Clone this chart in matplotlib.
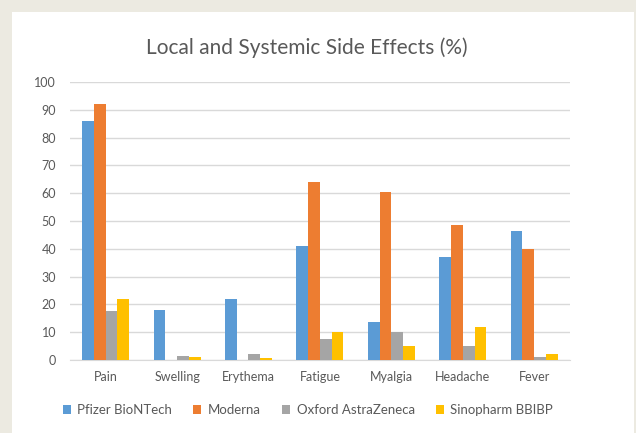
import numpy as np
import matplotlib
matplotlib.use("Agg")
import matplotlib.pyplot as plt
from matplotlib.patches import Rectangle

categories = ["Pain", "Swelling", "Erythema", "Fatigue", "Myalgia", "Headache", "Fever"]
pfizer = [86, 18, 22, 41, 13.8, 37, 46.5]
moderna = [92, 0, 0, 64, 60.5, 48.5, 40]
oxford = [17.5, 1.5, 2.2, 7.5, 10, 5, 1]
sinopharm = [22, 1.2, 0.8, 10, 5, 12, 2]

series = [
    ("Pfizer BioNTech", pfizer, "#5B9BD5"),
    ("Moderna", moderna, "#ED7D31"),
    ("Oxford AstraZeneca", oxford, "#A5A5A5"),
    ("Sinopharm BBIBP", sinopharm, "#FFC000"),
]

plt.rcParams['font.family'] = ['Lato', 'DejaVu Sans']
text_col = "#595959"

fig = plt.figure(figsize=(6.36, 4.33), dpi=100)
fig.patch.set_facecolor("#ECEAE1")
# white chart panel behind everything
panel = Rectangle((12 / 636, 0), 622 / 636, 421 / 433, transform=fig.transFigure,
                  facecolor="white", edgecolor="none", zorder=-10)
fig.add_artist(panel)

ax = fig.add_axes([0.110, 0.1686, 0.786, 0.642])
ax.set_facecolor("white")

x = np.arange(len(categories))
w = 0.165
for i, (name, vals, col) in enumerate(series):
    ax.bar(x + (i - 1.5) * w, vals, width=w, color=col, label=name, zorder=3)

ax.set_xlim(-0.5, len(categories) - 0.5)
ax.set_ylim(0, 100)
ax.set_yticks(range(0, 101, 10))
ax.set_xticks(x)
ax.set_xticklabels(categories)
ax.yaxis.grid(True, color="#D9D9D9", linewidth=1)
ax.set_axisbelow(True)
for s in ["top", "right", "left"]:
    ax.spines[s].set_visible(False)
ax.spines["bottom"].set_color("#D9D9D9")
ax.tick_params(axis="both", length=0, labelsize=9, colors=text_col)
ax.tick_params(axis="x", pad=8)
ax.tick_params(axis="y", pad=10)

fig.text(307 / 636, 1 - 48 / 433, "Local and Systemic Side Effects (%)", ha="center", va="center",
         fontsize=15, color=text_col)

leg = fig.legend(loc="center", bbox_to_anchor=(308 / 636, 1 - 410 / 433), ncol=4, frameon=False,
                 fontsize=9.5, handlelength=0.6, handleheight=0.6, handletextpad=0.5, columnspacing=1.6)
for t in leg.get_texts():
    t.set_color(text_col)

fig.savefig("out.png", dpi=100, facecolor=fig.get_facecolor())
